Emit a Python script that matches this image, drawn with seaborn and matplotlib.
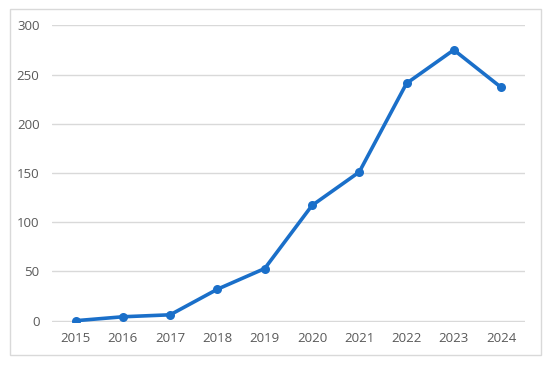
import matplotlib
matplotlib.use("Agg")
import matplotlib.pyplot as plt
import seaborn as sns
import pandas as pd
from matplotlib.patches import Rectangle

# data
years = ["2015", "2016", "2017", "2018", "2019", "2020", "2021", "2022", "2023", "2024"]
counts = [0, 4, 6, 32, 53, 117, 151, 241, 275, 237]
y_ticks = [0, 50, 100, 150, 200, 250, 300]

df = pd.DataFrame({"year": years, "count": counts})

sns.set_style("white")
plt.rcParams['font.family'] = ['Open Sans', 'DejaVu Sans']

fig = plt.figure(figsize=(5.5, 3.66), dpi=100)
ax = fig.add_axes([52/550, 1 - 321.5/366, (524.7-52)/550, (321.5-24.5)/366])

sns.lineplot(data=df, x="year", y="count", ax=ax, sort=False,
             color="#1a6fc9", lw=2.6, marker="o", markersize=6.5,
             markeredgewidth=0, zorder=3)

ax.set_xlim(-0.5, len(years) - 0.5)
ax.set_ylim(-0.8, 300.8)
ax.set_yticks(y_ticks)
ax.grid(axis='y', color='#d9d9d9', linewidth=1)
ax.grid(axis='x', visible=False)
for s in ax.spines.values():
    s.set_visible(False)
ax.tick_params(length=0, labelsize=9.5, labelcolor='#595959')
ax.tick_params(axis='x', pad=7.5)
ax.tick_params(axis='y', pad=9)
ax.set_xlabel("")
ax.set_ylabel("")

# light gray border around the chart area
fig.patches.append(Rectangle((10/550, 1 - 355/366), 531/550, 346/366,
                             transform=fig.transFigure, fill=False,
                             edgecolor='#d9d9d9', linewidth=1))

plt.savefig("out.png", dpi=100)
